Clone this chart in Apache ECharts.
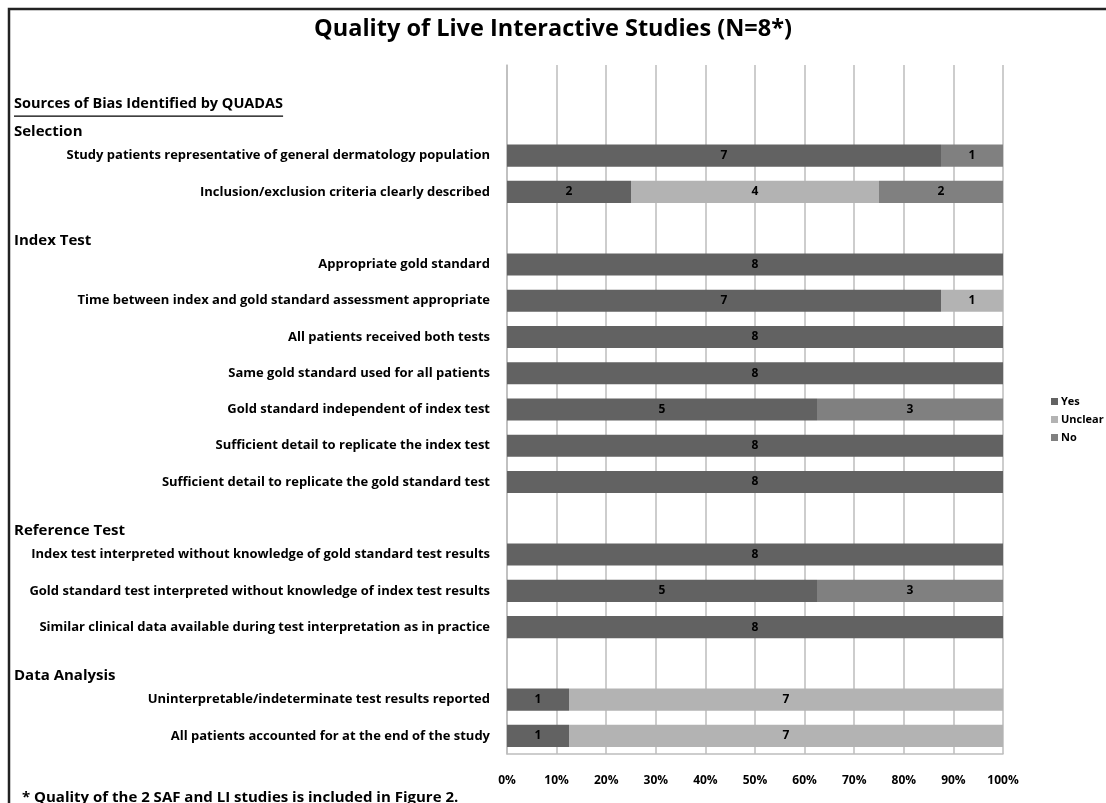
<!DOCTYPE html>
<html>
<head>
<meta charset="utf-8">
<script src="https://cdn.jsdelivr.net/npm/echarts@6/dist/echarts.min.js"></script>
<style>
  html, body { margin: 0; padding: 0; background: #ffffff; }
  #chart { width: 1106px; height: 803px; }
</style>
</head>
<body>
<div id="chart"></div>
<script>
// Number of live interactive studies assessed
const N = 8;

// Rows of the QUADAS checklist; section headings occupy their own rows
const categories = [
  'Sources of Bias Identified by QUADAS',
  'Selection',
  'Study patients representative of general dermatology population',
  'Inclusion/exclusion criteria clearly described',
  'Index Test',
  'Appropriate gold standard',
  'Time between index and gold standard assessment appropriate',
  'All patients received both tests',
  'Same gold standard used for all patients',
  'Gold standard independent of index test',
  'Sufficient detail to replicate the index test',
  'Sufficient detail to replicate the gold standard test',
  'Reference Test',
  'Index test interpreted without knowledge of gold standard test results',
  'Gold standard test interpreted without knowledge of index test results',
  'Similar clinical data available during test interpretation as in practice',
  'Data Analysis',
  'Uninterpretable/indeterminate test results reported',
  'All patients accounted for at the end of the study'
];

const headings = ['Selection', 'Index Test', 'Reference Test', 'Data Analysis'];
const mainHeading = 'Sources of Bias Identified by QUADAS';

// Study counts per answer (null on heading rows)
const yesCounts     = [null, null, 7, 2, null, 8, 7, 8, 8, 5, 8, 8, null, 8, 5, 8, null, 1, 1];
const unclearCounts = [null, null, 0, 4, null, 0, 1, 0, 0, 0, 0, 0, null, 0, 0, 0, null, 7, 7];
const noCounts      = [null, null, 1, 2, null, 0, 0, 0, 0, 3, 0, 0, null, 0, 3, 0, null, 0, 0];

const seriesNames = ['Yes', 'Unclear', 'No'];
const seriesColors = ['#626262', '#b3b3b3', '#808080'];

const xTicks = [0, 10, 20, 30, 40, 50, 60, 70, 80, 90, 100];

const FONT = '"Open Sans", "Liberation Sans", sans-serif';
const isHeading = name => name === mainHeading || headings.indexOf(name) >= 0;

// Share of studies (percent of N) with the raw count kept for the label
function toShare(counts) {
  return counts.map(c => (c === null || c === 0) ? { value: null, count: c } : { value: c / N * 100, count: c });
}

const chart = echarts.init(document.getElementById('chart'), null, { renderer: 'canvas' });

const option = {
  backgroundColor: '#ffffff',
  animation: false,
  title: {
    text: 'Quality of Live Interactive Studies (N=8*)',
    left: 'center',
    top: 12,
    textStyle: { fontFamily: FONT, fontWeight: 'bold', fontSize: 23.5, color: '#000' }
  },
  legend: {
    orient: 'vertical',
    left: 1046,
    top: 391,
    itemWidth: 7,
    itemHeight: 7,
    itemGap: 7,
    icon: 'rect',
    data: seriesNames,
    textStyle: { fontFamily: FONT, fontWeight: 'bold', fontSize: 11, color: '#000', padding: [0, 0, 0, -2] }
  },
  grid: { left: 507, right: 103, top: 65, bottom: 49, containLabel: false },
  xAxis: {
    type: 'value',
    min: xTicks[0],
    max: xTicks[xTicks.length - 1],
    interval: xTicks[1] - xTicks[0],
    axisLine: { show: true, lineStyle: { color: '#bdbdbd', width: 1.5 } },
    axisTick: { show: false },
    splitLine: { show: true, lineStyle: { color: '#bdbdbd', width: 1.5 } },
    axisLabel: {
      formatter: '{value}%',
      margin: 21,
      fontFamily: FONT,
      fontWeight: 'bold',
      fontSize: 12,
      color: '#000'
    }
  },
  yAxis: {
    type: 'category',
    inverse: true,
    data: categories,
    axisLine: { show: true, lineStyle: { color: '#bdbdbd', width: 1.5 } },
    axisTick: { show: false },
    splitLine: { show: false },
    axisLabel: {
      margin: 17,
      interval: 0,
      fontFamily: FONT,
      fontWeight: 'bold',
      fontSize: 13,
      color: '#000',
      formatter: v => isHeading(v) ? '' : v
    }
  },
  series: [yesCounts, unclearCounts, noCounts].map((counts, i) => ({
    name: seriesNames[i],
    type: 'bar',
    stack: 'answers',
    barWidth: '61%',
    itemStyle: { color: seriesColors[i] },
    label: {
      show: true,
      position: 'inside',
      fontFamily: FONT,
      fontWeight: 'bold',
      fontSize: 12,
      color: '#000',
      formatter: p => (p.data && p.data.count) ? String(p.data.count) : ''
    },
    data: toShare(counts)
  }))
};

chart.setOption(option);

// Section headings and the checklist caption, placed on their category rows
const measure = document.createElement('canvas').getContext('2d');
const elements = [];
headings.forEach(h => {
  const y = chart.convertToPixel({ yAxisIndex: 0 }, h);
  elements.push({
    type: 'text',
    left: 14,
    top: y + 5,
    style: { text: h, fontFamily: FONT, fontWeight: 'bold', fontSize: 15, fill: '#000' }
  });
});
const mainSize = 14.5;
const yMain = chart.convertToPixel({ yAxisIndex: 0 }, mainHeading);
measure.font = 'bold ' + mainSize + 'px ' + FONT;
const mainWidth = measure.measureText(mainHeading).width;
elements.push({
  type: 'text',
  left: 14,
  top: yMain + 13,
  style: { text: mainHeading, fontFamily: FONT, fontWeight: 'bold', fontSize: mainSize, fill: '#000' }
});
elements.push({
  type: 'line',
  shape: { x1: 14, y1: yMain + 33, x2: 14 + mainWidth, y2: yMain + 33 },
  style: { stroke: '#000', lineWidth: 1.2 }
});
// Footnote
elements.push({
  type: 'text',
  left: 22,
  top: 790,
  style: {
    text: '* Quality of the 2 SAF and LI studies is included in Figure 2.',
    fontFamily: FONT, fontWeight: 'bold', fontSize: 15, fill: '#000'
  }
});
// Frame around the figure
elements.push({
  type: 'rect',
  shape: { x: 9, y: 9, width: 1300, height: 1000 },
  style: { fill: 'none', stroke: '#222', lineWidth: 2.5 },
  silent: true
});

chart.setOption({ graphic: { elements: elements } });
</script>
</body>
</html>
